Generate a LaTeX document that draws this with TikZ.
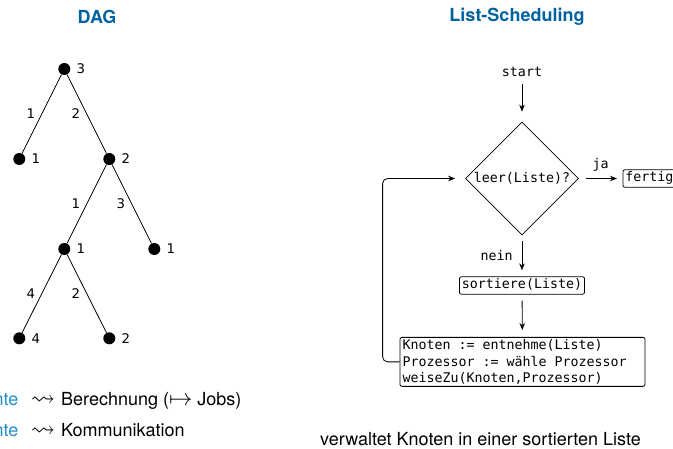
\documentclass[tikz,border=0pt]{standalone}
\usepackage{amssymb}
\usepackage{fontspec}
\setmainfont{TeX Gyre Heros}
\setmonofont{DejaVu Sans Mono}
\newfontfamily\dejavu{DejaVu Sans}
\usetikzlibrary{shapes.geometric,arrows.meta}
\definecolor{titleblue}{RGB}{0,99,160}
\definecolor{legendblue}{RGB}{36,140,200}
% fixed-width space for the monospaced code lines
\newcommand\msp{\makebox[0.602em]{}}

\begin{document}
\begin{tikzpicture}[x=1pt,y=-1pt,
  dot/.style={circle,fill,inner sep=0pt,minimum size=12pt},
  wt/.style={font=\dejavu\fontsize{13.3}{16}\selectfont,inner sep=0pt},
  vlabel/.style={label={[wt,label distance=6pt]right:#1}},
  treeedge/.style={line width=0.8pt},
  ttl/.style={font=\fontsize{18}{21}\selectfont\bfseries,text=titleblue,inner sep=0pt},
  sans/.style={font=\fontsize{18}{21}\selectfont,inner sep=0pt},
  mono/.style={font=\ttfamily\fontsize{13.3}{16.5}\selectfont},
  procbox/.style={mono,draw,rounded corners=2pt,inner xsep=2.5pt,inner ysep=2pt,line width=0.8pt},
  oneline/.style={text height=10pt,text depth=3.5pt},
  flow/.style={line width=0.8pt,-{Stealth[length=7pt,width=5.5pt]}},
]
\useasboundingbox (0,0) rectangle (673,449);
\clip (0,0) rectangle (673,449);

% headings
\node[ttl] (tdag) at (97,16.5) {DAG};
\node[ttl] (tls) at (517,16.5) {List-Scheduling};

% weighted tree
\node[dot,vlabel=3] (r) at (64.3,69) {};
\node[dot,vlabel=1] (a) at (19.3,159) {};
\node[dot,vlabel=2] (b) at (109.3,159) {};
\node[dot,vlabel=1] (c) at (64.3,249) {};
\node[dot,vlabel=1] (d) at (154.3,249) {};
\node[dot,vlabel=4] (e) at (19.3,338.3) {};
\node[dot,vlabel=2] (f) at (109.3,338.3) {};
\draw[treeedge] (r) -- node[wt,xshift=-11pt] {1} (a);
\draw[treeedge] (r) -- node[wt,xshift=-11pt] {2} (b);
\draw[treeedge] (b) -- node[wt,xshift=-11pt] {1} (c);
\draw[treeedge] (b) -- node[wt,xshift=-11pt] {3} (d);
\draw[treeedge] (c) -- node[wt,xshift=-11pt] {4} (e);
\draw[treeedge] (c) -- node[wt,xshift=-11pt] {2} (f);

% legend
\node[sans,anchor=base east,text=legendblue] (k1) at (18.5,406) {nte};
\node[sans,anchor=base,scale=1.35] (s1) at (43,406) {$\rightsquigarrow$};
\node[sans,anchor=base west] (t1) at (61,406) {Berechnung (\scalebox{1.35}{$\mapsto$} Jobs)};
\node[sans,anchor=base east,text=legendblue] (k2) at (18.5,437) {nte};
\node[sans,anchor=base,scale=1.35] (s2) at (43,437) {$\rightsquigarrow$};
\node[sans,anchor=base west] (t2) at (61,437) {Kommunikation};

% flow chart
\node[mono,inner sep=0pt] (start) at (522,72) {start};
\node[mono,draw,diamond,aspect=1,minimum size=113pt,inner sep=0pt,line width=0.8pt] (q) at (522,178.5) {leer(Liste)?};
\node[procbox,oneline,anchor=west] (fertig) at (622.5,178.5) {fertig};
\node[procbox,oneline] (sort) at (522,285.5) {sortiere(Liste)};
\node[procbox,text width=240pt,align=left,anchor=north] (work) at (522.5,337)
  {Knoten\msp:=\msp entnehme(Liste)\\Prozessor\msp:=\msp wähle\msp Prozessor\\weiseZu(Knoten,Prozessor)};

\draw[flow,shorten <=7pt,shorten >=10pt] (start) -- (q);
\draw[flow,shorten <=7pt,shorten >=5.5pt] (q) -- node[mono,inner sep=0pt,yshift=13.5pt] {ja} (fertig);
\draw[flow,shorten <=6pt,shorten >=6pt] (q) -- node[mono,inner sep=0pt,left=9pt] {nein} (sort);
\draw[flow,shorten <=6pt,shorten >=7pt] (sort) -- (work);
\draw[flow,rounded corners=5pt,shorten >=10pt] (work.west) -- ++(-17,0) |- (q.west);

% caption
\node[sans,anchor=base] (note) at (480.5,445.5) {verwaltet Knoten in einer sortierten Liste};
\end{tikzpicture}
\end{document}
